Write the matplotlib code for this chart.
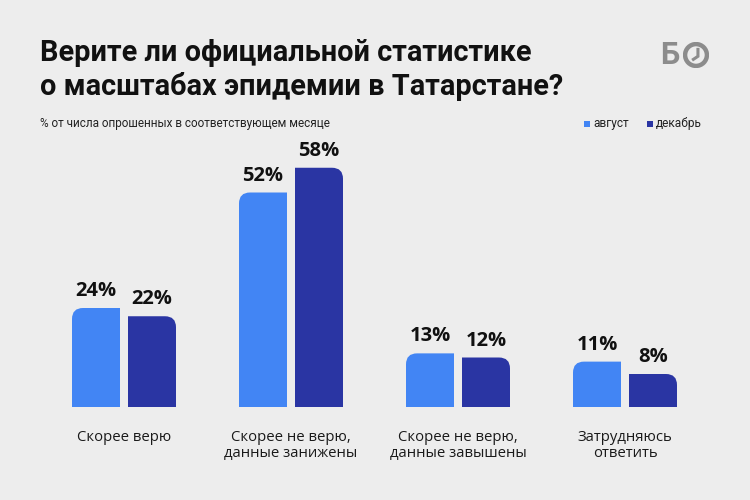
import numpy as np
import matplotlib.pyplot as plt
from matplotlib.path import Path
from matplotlib.patches import PathPatch, Rectangle, Circle

plt.rcParams['font.family'] = ['Roboto', 'DejaVu Sans']

categories = ["Скорее верю", "Скорее не верю,\nданные занижены",
              "Скорее не верю,\nданные завышены", "Затрудняюсь\nответить"]
august = [24, 52, 13, 11]
december = [22, 58, 12, 8]
series_names = ["август", "декабрь"]

BG = "#ededed"
LIGHT = "#4285f4"
DARK = "#2a35a3"

W, H = 750, 500
fig = plt.figure(figsize=(7.5, 5), dpi=100, facecolor=BG)

# axes placed in pixel terms: baseline at y=407, group spacing 167 px
ax_left, ax_bottom, ax_w, ax_h = 40.5, 93, 668, 247.5
ax = fig.add_axes([ax_left / W, ax_bottom / H, ax_w / W, ax_h / H])
ax.set_facecolor(BG)
ax.set_xlim(-0.5, 3.5)
ax.set_ylim(0, 60)
ax.axis("off")

px_x = ax_w / 4.0   # pixels per x unit
px_y = ax_h / 60.0  # pixels per y unit
bar_w = 48 / px_x
offset = 28 / px_x
rad = 11


def rounded_bar(x0, w, h, round_left):
    rx = rad / px_x
    ry = min(rad / px_y, h)
    x1 = x0 + w
    if round_left:
        verts = [(x0, 0), (x0, h - ry), (x0, h), (x0 + rx, h), (x1, h), (x1, 0), (x0, 0)]
        codes = [Path.MOVETO, Path.LINETO, Path.CURVE3, Path.CURVE3, Path.LINETO,
                 Path.LINETO, Path.CLOSEPOLY]
    else:
        verts = [(x0, 0), (x0, h), (x1 - rx, h), (x1, h), (x1, h - ry), (x1, 0), (x0, 0)]
        codes = [Path.MOVETO, Path.LINETO, Path.LINETO, Path.CURVE3, Path.CURVE3,
                 Path.LINETO, Path.CLOSEPOLY]
    return Path(verts, codes)


x = np.arange(len(categories))
for i in x:
    for val, col, sign, left in [(august[i], LIGHT, -1, True), (december[i], DARK, 1, False)]:
        cx = i + sign * offset
        p = rounded_bar(cx - bar_w / 2, bar_w, val, left)
        ax.add_patch(PathPatch(p, facecolor=col, edgecolor="none"))
        ax.annotate(f"{val}%", (cx, val), xytext=(0, 5), textcoords="offset points",
                    ha="center", va="bottom", fontsize=14.5, fontweight="bold",
                    family=["Open Sans", "DejaVu Sans"], color="#111111")
    ax.text(i, -5.6, categories[i], ha="center", va="top", fontsize=10.7,
            family=["Open Sans", "DejaVu Sans"], color="#1a1a1a", linespacing=1.12)

# title and subtitle
fig.text(40 / W, 1 - 39 / H, "Верите ли официальной статистике\nо масштабах эпидемии в Татарстане?",
         ha="left", va="top", fontsize=20.8, fontweight="bold", color="#111111", linespacing=1.2)
fig.text(40 / W, 1 - 123 / H, "% от числа опрошенных в соответствующем месяце",
         ha="left", va="center", fontsize=8.5, color="#222222")

# legend
for name, col, lx in zip(series_names, [LIGHT, DARK], [584, 647]):
    fig.patches.append(Rectangle((lx / W, 1 - 126.5 / H), 6 / W, 6 / H, facecolor=col,
                                 edgecolor="none", transform=fig.transFigure))
    fig.text((lx + 9) / W, 1 - 123 / H, name, ha="left", va="center", fontsize=8.6, color="#222222")

# logo
GREY = "#8c8c8c"
fig.text(660 / W, 1 - 55 / H, "Б", ha="left", va="center", fontsize=22, fontweight="bold", color=GREY)
lax = fig.add_axes([683 / W, 1 - 68 / H, 26 / W, 26 / H])
lax.set_xlim(-1, 1)
lax.set_ylim(-1, 1)
lax.axis("off")
lax.add_patch(Circle((0, 0), 0.84, facecolor="none", edgecolor=GREY, linewidth=3.2))
lax.plot([0.15, 0.15, -0.3], [0.55, -0.1, -0.4], color=GREY, linewidth=2.2,
         solid_capstyle="butt", solid_joinstyle="miter")

fig.savefig("out.png", dpi=100, facecolor=BG)
